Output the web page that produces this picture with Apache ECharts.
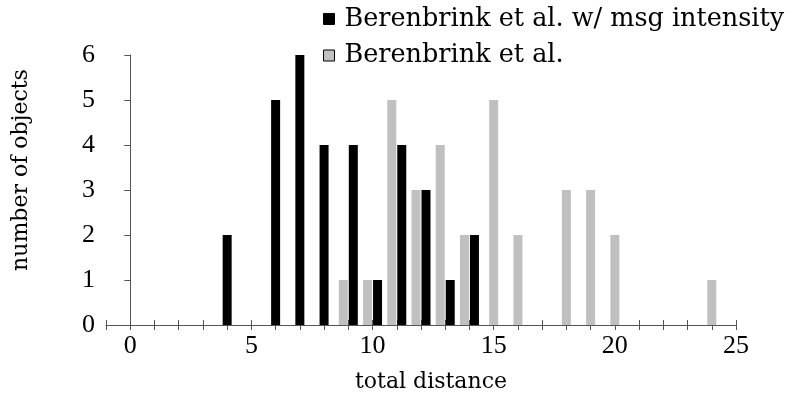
<!DOCTYPE html>
<html>
<head>
<meta charset="utf-8">
<script src="https://cdn.jsdelivr.net/npm/echarts@6/dist/echarts.min.js"></script>
<style>html,body{margin:0;padding:0;background:#fff}#c{width:790px;height:409px}</style>
</head>
<body>
<div id="c"></div>
<script>
// ---- data ----
var distances = [4, 6, 7, 8, 9, 10, 11, 12, 13, 14, 15, 16, 18, 19, 20, 24];
var withIntensity = [2, 5, 6, 4, 4, 1, 4, 3, 1, 2, 0, 0, 0, 0, 0, 0];   // black
var berenbrink   = [0, 0, 0, 0, 1, 1, 5, 3, 4, 2, 5, 2, 3, 3, 2, 1];   // grey
var xTickLabels = [0, 5, 10, 15, 20, 25];
var yTickLabels = [0, 1, 2, 3, 4, 5, 6];
var nameBlack = 'Berenbrink et al. w/ msg intensity';
var nameGrey = 'Berenbrink et al.';

var FONT = 'DejaVu Serif';
var TICKFONT = 'Liberation Serif';
var pairedBlack = [], pairedGrey = [], soloBlack = [], soloGrey = [];
distances.forEach(function (d, i) {
  var b = withIntensity[i], g = berenbrink[i];
  if (b > 0 && g > 0) { pairedBlack.push([d, b]); pairedGrey.push([d, g]); }
  else if (b > 0) { soloBlack.push([d, b]); }
  else if (g > 0) { soloGrey.push([d, g]); }
});

var chart = echarts.init(document.getElementById('c'));
var axisCommon = {
  type: 'value', min: -1, max: 25, interval: 1, position: 'bottom'
};
chart.setOption({
  animation: false,
  textStyle: { fontFamily: FONT },
  grid: { left: 106, right: 54, top: 55, bottom: 84, containLabel: false },
  legend: {
    orient: 'vertical', left: 323, top: 6, padding: 0,
    itemWidth: 11, itemHeight: 11, itemGap: 10.5,
    icon: 'rect',
    data: [nameBlack, nameGrey],
    itemStyle: { borderColor: '#000', borderWidth: 1 },
    textStyle: { fontFamily: FONT, fontSize: 25.5, color: '#000', padding: [0, 0, 0, 5] }
  },
  xAxis: [
    Object.assign({}, axisCommon, {
      name: 'total distance', nameLocation: 'middle', nameGap: 46,
      nameTextStyle: { fontFamily: FONT, fontSize: 22, color: '#000', padding: [0, 0, 0, 20] },
      axisLine: { show: true, lineStyle: { color: '#555', width: 1 } },
      axisTick: { show: true, length: 5, lineStyle: { color: '#555' } },
      axisLabel: {
        margin: 8, fontFamily: TICKFONT, fontSize: 26, color: '#000',
        formatter: function (v) { return xTickLabels.indexOf(v) >= 0 ? String(v) : ''; }
      },
      splitLine: { show: false }
    }),
    Object.assign({}, axisCommon, {
      axisLine: { show: false },
      axisTick: { show: true, inside: true, length: 5, lineStyle: { color: '#555' } },
      axisLabel: { show: false },
      splitLine: { show: false }
    })
  ],
  yAxis: {
    type: 'value', min: 0, max: 6, interval: 1,
    name: 'number of objects', nameLocation: 'middle', nameGap: 74, nameRotate: 90,
    nameTextStyle: { fontFamily: FONT, fontSize: 22, color: '#000', padding: [0, 0, 0, 40] },
    axisLine: { show: true, lineStyle: { color: '#555', width: 1 } },
    axisTick: { show: true, length: 6, lineStyle: { color: '#555' } },
    axisLabel: {
      margin: 11, fontFamily: TICKFONT, fontSize: 26, color: '#000',
      formatter: function (v) { return yTickLabels.indexOf(v) >= 0 ? String(v) : ''; }
    },
    splitLine: { show: false }
  },
  series: [
    { type: 'bar', name: nameGrey, xAxisIndex: 0, data: pairedGrey, barWidth: 9, barGap: '11%',
      itemStyle: { color: '#c0c0c0' } },
    { type: 'bar', name: nameBlack, xAxisIndex: 0, data: pairedBlack, barWidth: 9, barGap: '11%',
      itemStyle: { color: '#000' } },
    { type: 'bar', name: nameBlack, xAxisIndex: 1, data: soloBlack, barWidth: 9, stack: 'solo',
      itemStyle: { color: '#000' } },
    { type: 'bar', name: nameGrey, xAxisIndex: 1, data: soloGrey, barWidth: 9, stack: 'solo',
      itemStyle: { color: '#c0c0c0' } }
  ]
});
</script>
</body>
</html>
